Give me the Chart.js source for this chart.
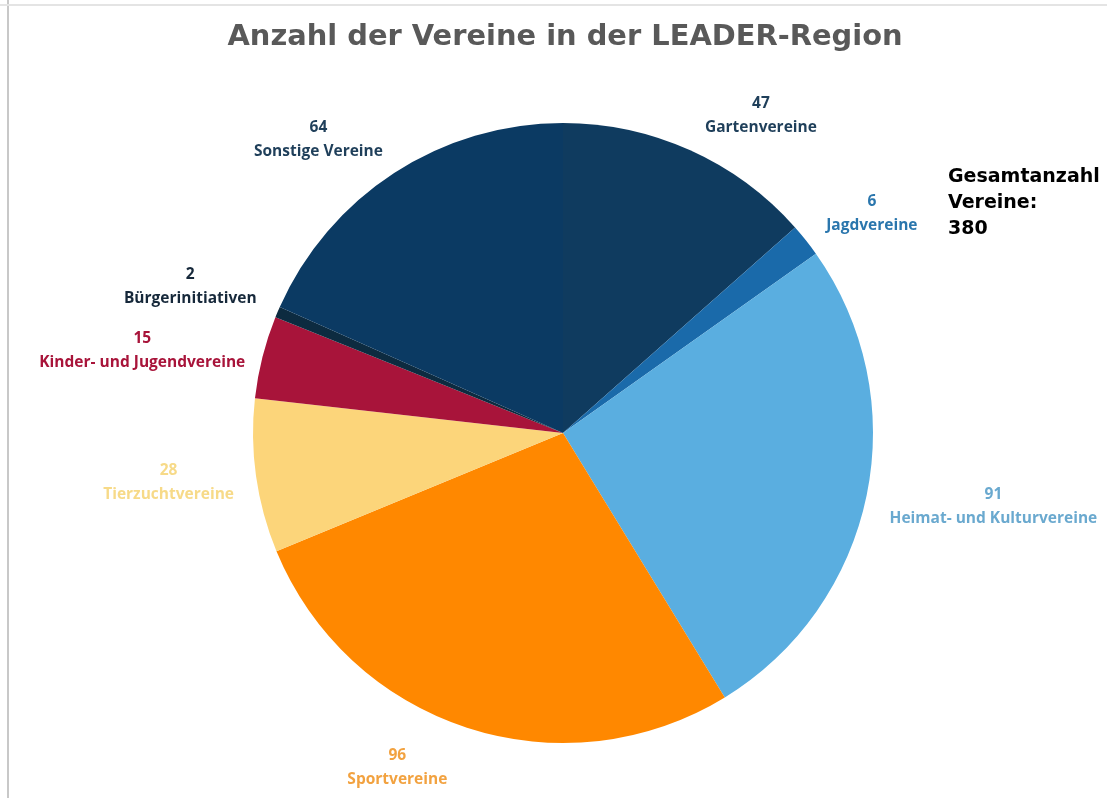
<!DOCTYPE html>
<html>
<head>
<meta charset="utf-8">
<script src="https://cdn.jsdelivr.net/npm/chart.js@4"></script>
<style>
  html, body { margin:0; padding:0; background:#fff; }
  #wrap { position:relative; width:1107px; height:798px; overflow:hidden; }
  #edgeL { position:absolute; left:7px; top:0; width:2px; height:798px; background:#c8c8c8; }
  #edgeT { position:absolute; left:0; top:4px; width:1107px; height:2px; background:#e4e4e4; }
</style>
</head>
<body>
<div id="wrap">
  <canvas id="pieChart" width="1107" height="798"></canvas>
  <div id="edgeL"></div>
  <div id="edgeT"></div>
</div>
<script>
const categories = ['Gartenvereine', 'Jagdvereine', 'Heimat- und Kulturvereine', 'Sportvereine',
                    'Tierzuchtvereine', 'Kinder- und Jugendvereine', 'Bürgerinitiativen', 'Sonstige Vereine'];
const counts = [47, 6, 91, 96, 28, 15, 2, 64];
const totalText = ['Gesamtanzahl', 'Vereine:', '380'];
const chartTitle = 'Anzahl der Vereine in der LEADER-Region';

const sliceColors = ['#0f3b5f', '#1a6aaa', '#5aaee0', '#ff8800', '#fcd57a', '#a8143a', '#0d2b40', '#0b3a63'];
const labelColors = ['#1f3f5a', '#2a76ad', '#6aa9cf', '#f2a240', '#f7da88', '#a8143a', '#16283a', '#1f3f5a'];
// fine adjustment of each label from its slice direction (pixels)
const labelNudge = [[46,20],[19,11],[68,-1],[-51,-17],[-28,-2],[-62,8],[-32,-2],[-43,17]];

const labelPlugin = {
  id: 'pieLabels',
  afterDraw(chart) {
    const ctx = chart.ctx;
    const meta = chart.getDatasetMeta(0);
    ctx.save();
    // title
    ctx.fillStyle = '#595959';
    ctx.textAlign = 'center';
    ctx.textBaseline = 'middle';
    ctx.font = 'bold 33px "DejaVu Sans"';
    const w = ctx.measureText(chartTitle).width;
    const fs = 33 * 675 / w;
    ctx.font = 'bold ' + fs.toFixed(1) + 'px "DejaVu Sans"';
    ctx.fillText(chartTitle, 565, 37);

    // data labels
    ctx.font = 'bold 15.5px "Open Sans"';
    meta.data.forEach((arc, i) => {
      const mid = (arc.startAngle + arc.endAngle) / 2;
      const r = 370;
      const x = arc.x + Math.cos(mid) * r + labelNudge[i][0];
      const y = arc.y + Math.sin(mid) * r + labelNudge[i][1];
      ctx.fillStyle = labelColors[i];
      ctx.fillText(String(counts[i]), x, y - 12);
      ctx.fillText(categories[i], x, y + 12);
    });

    // total
    ctx.fillStyle = '#000';
    ctx.textAlign = 'left';
    ctx.font = 'bold 19px "DejaVu Sans"';
    totalText.forEach((t, k) => ctx.fillText(t, 948, 177 + k * 26));
    ctx.restore();
  }
};

new Chart(document.getElementById('pieChart').getContext('2d'), {
  type: 'pie',
  data: {
    labels: categories,
    datasets: [{ data: counts, backgroundColor: sliceColors, borderWidth: 0 }]
  },
  options: {
    responsive: false,
    animation: false,
    layout: { padding: { left: 253, right: 234, top: 123, bottom: 55 } },
    plugins: { legend: { display: false }, tooltip: { enabled: false }, title: { display: false } }
  },
  plugins: [labelPlugin]
});
</script>
</body>
</html>
